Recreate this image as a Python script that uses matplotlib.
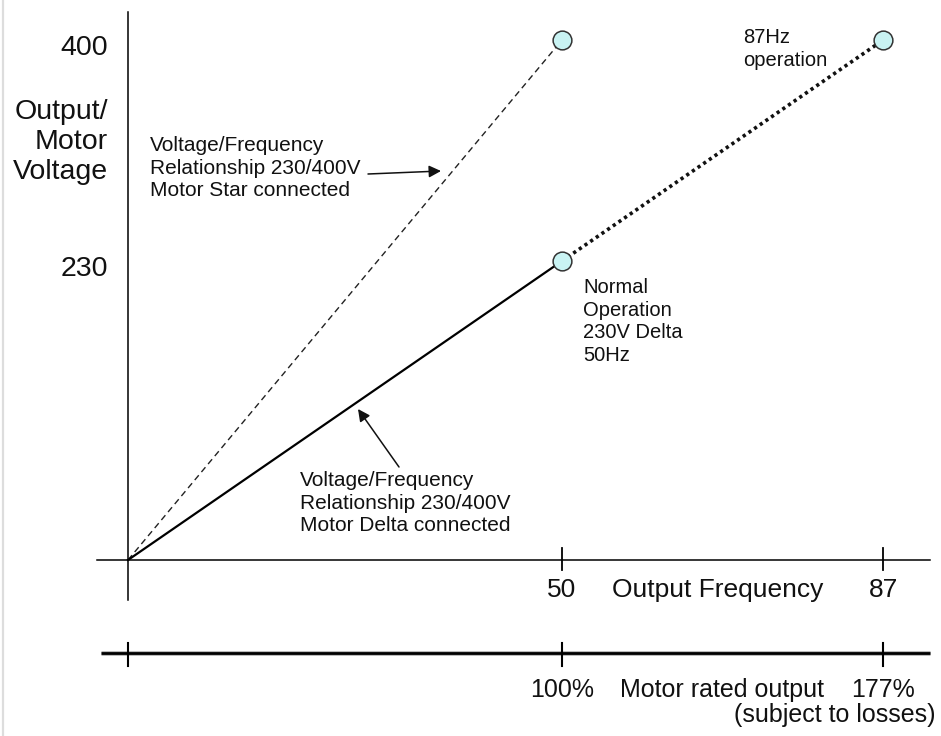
import matplotlib
matplotlib.use("Agg")
import matplotlib.pyplot as plt
from matplotlib.lines import Line2D

plt.rcParams['font.family'] = ['Liberation Sans', 'DejaVu Sans']

# data: voltage / frequency relationships
star_freq = [0, 50]          # 230/400V motor, star connected
star_volt = [0, 400]
delta_freq = [0, 50]         # 230/400V motor, delta connected
delta_volt = [0, 230]
ext_freq = [50, 87]          # 87Hz operation
ext_volt = [230, 400]
point_freq = [50, 50, 87]
point_volt = [400, 230, 400]

volt_ticks = [400, 230]
volt_labels = ['400', '230']
freq_ticks = [0, 50, 87]
freq_labels = ['', '50', '87']
output_labels = ['', '100%', '177%']

W, H = 941, 736
# pixel mapping of the axes (origin at px 128,560)
X0, Y0 = 128, 560
SX = (562 - X0) / 50.0
SY = (Y0 - 40) / 400.0

def dx(px):
    return (px - X0) / SX

def dy(py):
    return (Y0 - py) / SY

fig = plt.figure(figsize=(W / 100, H / 100), dpi=100)
ax = fig.add_axes([0, 0, 1, 1])
ax.set_xlim(dx(0), dx(W))
ax.set_ylim(dy(H), dy(0))
ax.axis('off')

txt = '#111111'

# faint border at the left edge
fig.add_artist(Line2D([2.5 / W, 2.5 / W], [0, 1], color='#dddddd', lw=1.6))

# axes
ax.plot([0, 0], [dy(600), dy(12)], color='black', lw=1.1)
ax.plot([dx(97), dx(930)], [0, 0], color='black', lw=1.1)
for f in freq_ticks[1:]:
    ax.plot([f, f], [dy(570), dy(548)], color='black', lw=1.3)

# second scale: motor rated output
yb = dy(653)
ax.plot([dx(101), dx(930)], [yb, yb], color='#bbbbbb', lw=3.6, solid_capstyle='butt')
ax.plot([dx(101), dx(930)], [yb, yb], color='black', lw=2.0, solid_capstyle='butt')
for f in freq_ticks:
    ax.plot([f, f], [dy(666), dy(643)], color='black', lw=1.5)

# relationship lines
ax.plot(star_freq, star_volt, color='#222222', lw=1.0, linestyle=(0, (4.5, 3)))
ax.plot(delta_freq, delta_volt, color='black', lw=1.6)
ax.plot(ext_freq, ext_volt, color='#111111', lw=2.6, linestyle=(0, (0.9, 1.0)))
ax.plot(point_freq, point_volt, linestyle='none', marker='o', markersize=13.5,
        markerfacecolor='#c9f3f3', markeredgecolor='#333333', markeredgewidth=1.1, zorder=5)

# tick labels
for v, lab in zip(volt_ticks, volt_labels):
    ax.annotate(lab, xy=(0, v), xytext=(-20, -15), textcoords='offset pixels',
                ha='right', va='baseline', fontsize=20.5, color=txt)
for f, lab in zip(freq_ticks, freq_labels):
    if lab:
        ax.annotate(lab, xy=(f, 0), xytext=(0, -37), textcoords='offset pixels',
                    ha='center', va='baseline', fontsize=19, color=txt)
for f, lab in zip(freq_ticks, output_labels):
    if lab:
        ax.annotate(lab, xy=(f, yb), xytext=(0, -44), textcoords='offset pixels',
                    ha='center', va='baseline', fontsize=18, color=txt)

def ftext(x, y, s, **kw):
    # y is the baseline of the last line
    fig.text(x / W, 1 - y / H, s, va='baseline', color=txt, **kw)

ftext(108, 179, 'Output/\nMotor\nVoltage', ha='right', fontsize=20.5, linespacing=1.2)
ftext(612, 597, 'Output Frequency', ha='left', fontsize=19)
ftext(620, 697, 'Motor rated output', ha='left', fontsize=18)
ftext(935, 722, '(subject to losses)', ha='right', fontsize=18)

ftext(150, 196, 'Voltage/Frequency\nRelationship 230/400V\nMotor Star connected',
      ha='left', fontsize=15, linespacing=1.22)
ftext(300, 531, 'Voltage/Frequency\nRelationship 230/400V\nMotor Delta connected',
      ha='left', fontsize=15, linespacing=1.22)
ftext(583, 361, 'Normal\nOperation\n230V Delta\n50Hz', ha='left', fontsize=14.5,
      linespacing=1.25)
ftext(743, 66, '87Hz\noperation', ha='left', fontsize=14.5, linespacing=1.25)

# arrows pointing at the lines
arrow = dict(arrowstyle='-|>', color='#111111', lw=1.1, mutation_scale=18,
             shrinkA=0, shrinkB=0)
ax.annotate('', xy=(dx(441), dy(171)), xytext=(dx(368), dy(174)), arrowprops=arrow)
ax.annotate('', xy=(dx(358), dy(409)), xytext=(dx(399), dy(467)), arrowprops=arrow)

fig.savefig('out.png', dpi=100, facecolor='white')
